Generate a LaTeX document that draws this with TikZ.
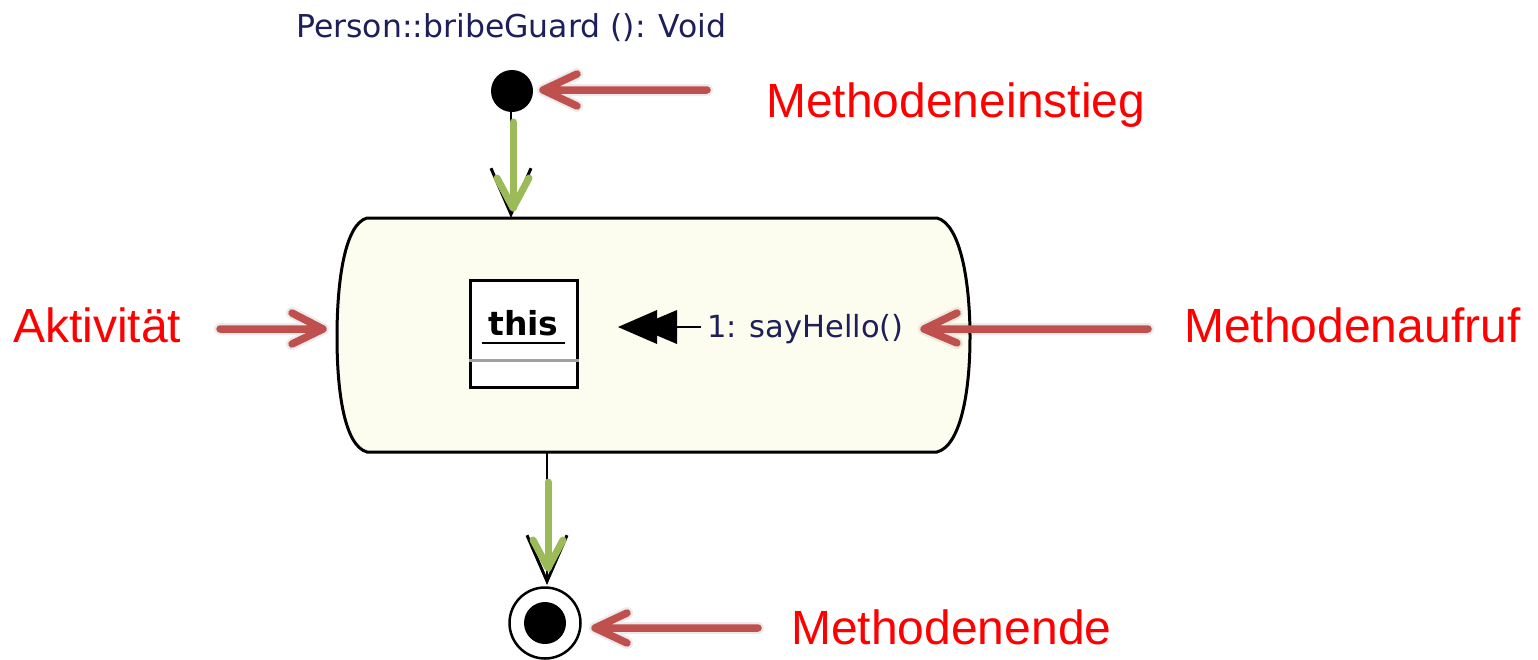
\documentclass[tikz,border=0pt]{standalone}
\usepackage{fontspec}
\setmainfont{Liberation Sans}
\newfontfamily\uifont{DejaVu Sans}
\usetikzlibrary{arrows.meta}
\definecolor{annred}{HTML}{C0504D}
\definecolor{labred}{HTML}{FF0000}
\definecolor{anngreen}{HTML}{9BBB59}
\definecolor{actfill}{HTML}{FDFDEF}
\definecolor{uinavy}{HTML}{1E1E5A}
\definecolor{sepgray}{HTML}{A0A0A0}
\begin{document}
\begin{tikzpicture}[x=1pt,y=-1pt,
  lab/.style={inner sep=0, anchor=base west, text=labred, font=\fontsize{48}{56}\selectfont},
  uitext/.style={inner sep=0, anchor=base west, text=uinavy, font=\uifont\fontsize{31.5}{36}\selectfont},
  redarr/.style={draw=annred, line width=7.5, line cap=round, line join=round},
  redshadow/.style={draw=black, opacity=0.08, line width=12, line cap=round, line join=round},
  greenarr/.style={draw=anngreen, line width=7, line cap=round, line join=round},
  umledge/.style={draw=black, line width=2.5, -{Straight Barb[length=46pt,width=40pt,line width=3pt]}},
  actbox/.style={fill=actfill, draw=black, line width=3},
]
\useasboundingbox (0,0) rectangle (1538,659);
\fill[white] (0,0) rectangle (1538,659);

% title
\node[uitext] (title) at (296,37) {Person::bribeGuard (): Void};

% activity outline
\path[actbox] (367,218) -- (937,218)
  .. controls (960,224) and (970,280) .. (970,337)
  .. controls (970,394) and (960,446) .. (937,452)
  -- (367,452)
  .. controls (345,446) and (337,394) .. (337,337)
  .. controls (337,280) and (345,224) .. (367,218) -- cycle;
\node[inner sep=0, minimum width=633, minimum height=234] (act) at (653.5,335) {};

% initial node
\node[circle, fill=black, minimum size=42, inner sep=0] (init) at (512,91) {};
\coordinate (acttop) at (511,218);
\draw[umledge] (511,111) -- (acttop);

% final node
\node[circle, draw=black, line width=2.5, fill=white, minimum size=71, inner sep=0] (final) at (545,623) {};
\fill[black] (final.center) circle (21);
\coordinate (actbot) at (547,452);
\draw[umledge] (actbot) -- (547,585);

% this box
\node[draw=black, line width=3, fill=white, minimum width=107, minimum height=107, inner sep=0] (thisbox) at (523.5,333.5) {};
\node[inner sep=0, anchor=base, font=\uifont\bfseries\fontsize{33}{38}\selectfont] (thistext) at (523.5,335) {this};
\draw[black, line width=2.5] (482,343) -- (565,343);
\draw[sepgray, line width=3] (thisbox.west |- 0,360) -- (thisbox.east |- 0,360);

% message
\node[uitext, font=\uifont\fontsize{30.5}{36}\selectfont] (call) at (707,337) {1: sayHello()};
\coordinate (msgtip) at (618,327);
\draw[black, line width=2.5] (call.west |- msgtip) ++(-6,0) -- (676,327);
\fill[black] (677,310) -- (677,344) -- (637,327) -- cycle;
\fill[black] (657,310) -- (657,344) -- (msgtip) -- cycle;

% green annotation arrows
\coordinate (g1a) at (513,122); \coordinate (g1b) at (513,208);
\draw[greenarr] (g1a) -- (g1b);
\draw[greenarr] (497,178) -- (g1b) -- (529,178);
\coordinate (g2a) at (548,482); \coordinate (g2b) at (548,568);
\draw[greenarr] (g2a) -- (g2b);
\draw[greenarr] (533,540) -- (g2b) -- (563,540);

% labels
\node[lab] (lEin) at (766,117) {Methodeneinstieg};
\node[lab] (lAkt) at (13,342) {Aktivität};
\node[lab] (lAuf) at (1184,342) {Methodenaufruf};
\node[lab] (lEnd) at (791,644) {Methodenende};

% red annotation arrows
\coordinate (r1t) at (543,90); \coordinate (r1s) at (707,90);
\coordinate (r2t) at (323,329); \coordinate (r2s) at (220,329);
\coordinate (r3t) at (924,329); \coordinate (r3s) at (1148,329);
\coordinate (r4t) at (595,628); \coordinate (r4s) at (758,628);
\begin{scope}[shift={(3,5)}]
  \draw[redshadow] (r1s) -- (r1t) -- ++(34,-16) (r1t) -- ++(34,16);
  \draw[redshadow] (r2s) -- (r2t) -- ++(-31,-16) (r2t) -- ++(-31,15);
  \draw[redshadow] (r3s) -- (r3t) -- ++(33,-16) (r3t) -- ++(33,14);
  \draw[redshadow] (r4s) -- (r4t) -- ++(32,-15) (r4t) -- ++(32,15);
\end{scope}
\draw[redarr] (r1s) -- (r1t) -- ++(34,-16) (r1t) -- ++(34,16);
\draw[redarr] (r2s) -- (r2t) -- ++(-31,-16) (r2t) -- ++(-31,15);
\draw[redarr] (r3s) -- (r3t) -- ++(33,-16) (r3t) -- ++(33,14);
\draw[redarr] (r4s) -- (r4t) -- ++(32,-15) (r4t) -- ++(32,15);
\end{tikzpicture}
\end{document}
